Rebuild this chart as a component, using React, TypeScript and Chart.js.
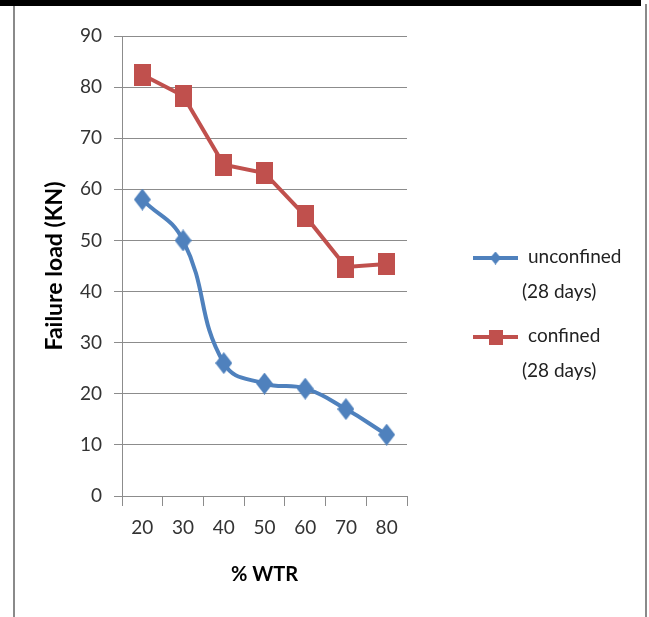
import React, { useEffect, useRef } from "react";
import { Chart, registerables } from "chart.js";

Chart.register(...registerables);

const categories = ["20", "30", "40", "50", "60", "70", "80"];
const unconfined = [58, 50, 26, 22, 21, 17, 12];
const confined = [82.4, 78.3, 64.8, 63.2, 54.8, 44.8, 45.4];
const seriesNames = [["unconfined", "(28 days)"], ["confined", "(28 days)"]];
const yTicks = { min: 0, max: 90, step: 10 };
const xTitle = "% WTR";
const yTitle = "Failure load (KN)";

const BLUE = "#4F81BD";
const RED = "#C0504D";
const GRID = "#8c8c8c";
const FONT = "Lato, 'Open Sans', sans-serif";

function makeMarker(kind: "rect" | "diamond", w: number, h: number, color: string) {
  const c = document.createElement("canvas");
  c.width = w;
  c.height = h;
  const ctx = c.getContext("2d")!;
  ctx.fillStyle = color;
  if (kind === "rect") {
    ctx.fillRect(0, 0, w, h);
  } else {
    ctx.beginPath();
    ctx.moveTo(w / 2, 0);
    ctx.lineTo(w, h / 2);
    ctx.lineTo(w / 2, h);
    ctx.lineTo(0, h / 2);
    ctx.closePath();
    ctx.fill();
  }
  return c;
}

export default function App() {
  const ref = useRef<HTMLCanvasElement | null>(null);

  useEffect(() => {
    document.body.style.margin = "0";
    const canvas = ref.current!;
    const diamond = makeMarker("diamond", 17, 22, BLUE);
    const square = makeMarker("rect", 17, 22, RED);
    const legendMarkers = [
      makeMarker("diamond", 11, 13, BLUE),
      makeMarker("rect", 14, 15, RED),
    ];

    const legendPlugin = {
      id: "customLegend",
      afterDraw(chart: any) {
        const ctx = chart.ctx;
        const items = chart.data.datasets;
        const rows = [258, 337];
        ctx.save();
        items.forEach((ds: any, i: number) => {
          const y = rows[i];
          ctx.strokeStyle = ds.borderColor;
          ctx.lineWidth = 4;
          ctx.beginPath();
          ctx.moveTo(473, y);
          ctx.lineTo(518, y);
          ctx.stroke();
          const m = legendMarkers[i];
          ctx.drawImage(m, 495.5 - m.width / 2, y - m.height / 2);
          ctx.fillStyle = "#222";
          ctx.font = `19px ${FONT}`;
          ctx.textBaseline = "middle";
          ctx.textAlign = "left";
          const lines = seriesNames[i];
          ctx.fillText(lines[0], 528, y - 1);
          ctx.fillText(lines[1], 522, y + 34);
        });
        ctx.restore();
      },
    };

    const frame = {
      id: "frame",
      beforeDraw(chart: any) {
        const ctx = chart.ctx;
        ctx.save();
        ctx.fillStyle = "#fff";
        ctx.fillRect(0, 0, chart.width, chart.height);
        ctx.fillStyle = "#000";
        ctx.fillRect(0, 0, 641, 6);
        ctx.strokeStyle = "#8a8a8a";
        ctx.lineWidth = 2;
        ctx.beginPath();
        ctx.moveTo(14, 6);
        ctx.lineTo(14, chart.height + 2);
        ctx.moveTo(646, 4);
        ctx.lineTo(646, chart.height + 2);
        ctx.stroke();
        ctx.restore();
      },
    };

    const chart = new Chart(canvas, {
      type: "line",
      data: {
        labels: categories,
        datasets: [
          {
            label: seriesNames[0].join(" "),
            data: unconfined,
            borderColor: BLUE,
            backgroundColor: BLUE,
            borderWidth: 4,
            tension: 0.45,
            pointStyle: diamond as any,
            pointRadius: 9,
          },
          {
            label: seriesNames[1].join(" "),
            data: confined,
            borderColor: RED,
            backgroundColor: RED,
            borderWidth: 4,
            tension: 0,
            pointStyle: square as any,
            pointRadius: 9,
          },
        ],
      },
      options: {
        animation: false,
        responsive: false,
        devicePixelRatio: 1,
        layout: { padding: { left: 0, right: 242, top: 36, bottom: 0 } },
        plugins: {
          legend: { display: false },
          tooltip: { enabled: false },
        },
        scales: {
          x: {
            type: "category",
            offset: true,
            grid: {
              offset: true,
              drawOnChartArea: false,
              drawTicks: true,
              tickLength: 10,
              color: GRID,
            },
            border: { display: true, color: GRID, width: 1 },
            ticks: {
              font: { family: FONT, size: 19 },
              color: "#333",
              padding: 10,
              maxRotation: 0,
            },
            title: {
              display: true,
              text: xTitle,
              font: { family: FONT, size: 20, weight: "bold" },
              color: "#000",
              padding: { top: 0, bottom: 30 },
            },
            afterFit: (s: any) => {
              s.height = 121;
            },
          },
          y: {
            min: yTicks.min,
            max: yTicks.max,
            ticks: {
              stepSize: yTicks.step,
              font: { family: FONT, size: 19 },
              color: "#333",
              padding: 12,
            },
            grid: {
              color: GRID,
              drawTicks: true,
              tickLength: 8,
            },
            border: { display: true, color: GRID, width: 1 },
            title: {
              display: true,
              text: yTitle,
              font: { family: FONT, size: 23, weight: "bold" },
              color: "#000",
              padding: { top: 41, bottom: 0 },
            },
            afterFit: (s: any) => {
              s.width = 122;
            },
          },
        },
      },
      plugins: [frame, legendPlugin],
    });

    return () => chart.destroy();
  }, []);

  return (
    <div style={{ width: 649, height: 617, position: "relative" }}>
      <canvas ref={ref} width={649} height={617} style={{ display: "block" }} />
    </div>
  );
}
